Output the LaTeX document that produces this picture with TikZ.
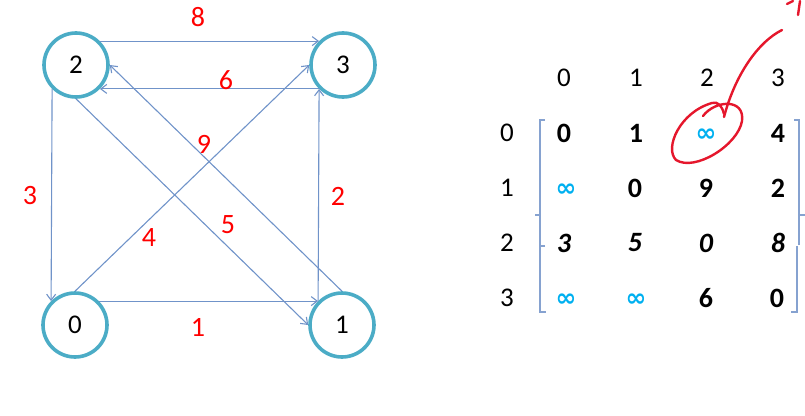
\documentclass[tikz,border=0pt]{standalone}
\usepackage{fontspec}
\setmainfont{Carlito}
\newfontfamily\symfont{DejaVu Sans}
\usetikzlibrary{arrows.meta}
\definecolor{nodeteal}{HTML}{4BACC6}
\definecolor{edgeblue}{HTML}{7093C9}
\definecolor{lblred}{HTML}{FF0000}
\definecolor{infcyan}{HTML}{00B0F0}
\definecolor{penred}{HTML}{E5172C}
\definecolor{brackblue}{HTML}{86A2D0}
\tikzset{
  vert/.style={circle, draw=nodeteal, line width=3.6pt, minimum size=64pt, inner sep=0pt, font=\fontsize{27}{30}\selectfont},
  edge/.style={draw=edgeblue, line width=1.1pt, -{Straight Barb[length=6pt,width=9pt]}},
  wlbl/.style={text=lblred, font=\fontsize{28}{30}\selectfont, inner sep=0pt},
  hdr/.style={font=\fontsize{27}{30}\selectfont, inner sep=0pt},
  ent/.style={font=\fontsize{28}{30}\selectfont\bfseries, inner sep=0pt},
  entit/.style={font=\fontsize{28}{30}\selectfont\bfseries\itshape, inner sep=0pt},
  inf/.style={font=\symfont\fontsize{25}{30}\selectfont\bfseries, text=infcyan, inner sep=0pt},
  brack/.style={draw=brackblue, line width=1.1pt},
  pen/.style={draw=penred, line width=2.4pt, line cap=round, line join=round}
}
\begin{document}
\begin{tikzpicture}[x=1pt,y=-1pt]
\useasboundingbox (0,0) rectangle (805,415);
% graph nodes
\node[vert] (n2) at (76,65) {2};
\node[vert] (n3) at (343,65) {3};
\node[vert] (n0) at (75,325) {0};
\node[vert] (n1) at (342,325) {1};
% edges
\draw[edge] (n2.45) -- (n3.135);
\draw[edge] (n3.225) -- (n2.-45);
\draw[edge] (n2.225) -- (n0.135);
\draw[edge] (n1.135) -- (n3.225);
\draw[edge] (n0.45) -- (n1.135);
\draw[edge] (n0.north) -- (n3.west);
\draw[edge] (n2.south) -- (n1.west);
\draw[edge] (n1.north) -- (n2.east);
% weights
\node[wlbl] (w8) at (198,17) {8};
\node[wlbl] (w6) at (226,80) {6};
\node[wlbl] (w3) at (30,196) {3};
\node[wlbl] (w2) at (338,196) {2};
\node[wlbl] (w9) at (204,144) {9};
\node[wlbl] (w4) at (149,238) {4};
\node[wlbl] (w5) at (228,225) {5};
\node[wlbl] (w1) at (198,327) {1};
% matrix headers
\node[hdr] (c0) at (564,78) {0};
\node[hdr] (c1) at (636,78) {1};
\node[hdr] (c2) at (707,78) {2};
\node[hdr] (c3) at (778,78) {3};
\node[hdr] (r0) at (507,133) {0};
\node[hdr] (r1) at (507,188) {1};
\node[hdr] (r2) at (507,243) {2};
\node[hdr] (r3) at (507,298) {3};
% entries
\node[ent] (m00) at (564,133) {0};
\node[ent] (m01) at (636,133) {1};
\node[inf] (m02) at (706,135) {∞};
\node[ent] (m03) at (778,133) {4};
\node[inf] (m10) at (566,190) {∞};
\node[ent] (m11) at (635,188) {0};
\node[ent] (m12) at (706,188) {9};
\node[ent] (m13) at (778,188) {2};
\node[entit] (m20) at (564,243) {3};
\node[entit] (m21) at (635,243) {5};
\node[entit] (m22) at (706,243) {0};
\node[entit] (m23) at (778,243) {8};
\node[inf] (m30) at (566,300) {∞};
\node[inf] (m31) at (636,300) {∞};
\node[ent] (m32) at (706,298) {6};
\node[ent] (m33) at (777,298) {0};
% brackets
\draw[brack] (545,120) -- (540,120) -- (540,245);
\draw[brack] (540,215) -- (535,215);
\draw[brack] (545,246) -- (540,246) -- (540,312) -- (546,312);
\draw[brack] (794,120) -- (799,120) -- (799,245);
\draw[brack] (799,215) -- (805,215);
\draw[brack] (797,246) -- (797,312) -- (791,312);
% red annotation
\draw[pen] (703,116) .. controls (715,100) and (745,98) .. (742,121)
  .. controls (738,145) and (695,172) .. (676,160)
  .. controls (664,148) and (680,112) .. (712,103)
  .. controls (718,101) and (722,106) .. (724,114);
\draw[pen] (724,117) .. controls (735,75) and (758,42) .. (782,30);
\draw[pen] (787,4) -- (793,1);
\draw[pen] (798,15) -- (800,1);
\end{tikzpicture}
\end{document}
